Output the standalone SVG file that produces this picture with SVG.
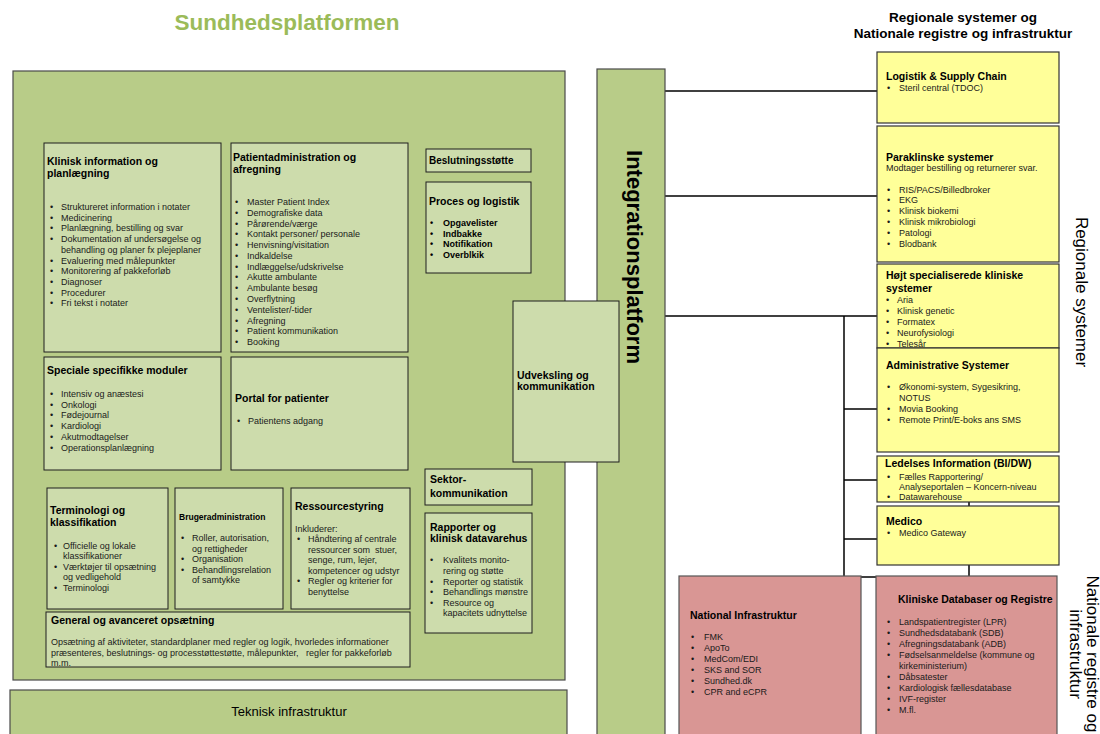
<svg xmlns="http://www.w3.org/2000/svg" width="1100" height="734" viewBox="0 0 1100 734">
<style>
.main{fill:#b8cc88;stroke:#4a4a4a;stroke-width:1.2}
.box{fill:#cddcac;stroke:#1e1e1e;stroke-width:1}
.yel{fill:#ffff99;stroke:#333;stroke-width:1.2}
.red{fill:#d99694;stroke:#555;stroke-width:1.2}
.h{font-family:"Liberation Sans",Arial,sans-serif;font-weight:bold;font-size:10.5px;fill:#000}
.t{font-family:"Liberation Sans",Arial,sans-serif;font-size:9px;fill:#1a1a1a}
.tb{font-family:"Liberation Sans",Arial,sans-serif;font-size:9px;font-weight:bold;fill:#000}
.ln{stroke:#000;stroke-width:1.5;fill:none}
</style>
<rect width="1100" height="734" fill="#fff"/>
<text x="287" y="30" text-anchor="middle" font-family="Liberation Sans, Arial, sans-serif" font-weight="bold" font-size="22.5" fill="#9bbb59">Sundhedsplatformen</text>
<text x="963" y="22" text-anchor="middle" class="h" style="font-size:13.5px">Regionale systemer og</text>
<text x="963" y="38" text-anchor="middle" class="h" style="font-size:13.5px">Nationale registre og infrastruktur</text>
<text transform="translate(1076,292) rotate(90)" text-anchor="middle" font-family="Liberation Sans, Arial, sans-serif" font-size="17" fill="#000">Regionale systemer</text>
<g transform="translate(1087,654) rotate(90)" font-family="Liberation Sans, Arial, sans-serif" font-size="17" fill="#000" text-anchor="middle">
<text x="0" y="0">Nationale registre og</text>
<text x="0" y="17">infrastruktur</text>
</g>

<g id="connectors">
<line class="ln" x1="665" y1="91" x2="877" y2="91"/>
<line class="ln" x1="665" y1="196" x2="877" y2="196"/>
<line class="ln" x1="665" y1="316" x2="877" y2="316"/>
<line class="ln" x1="844" y1="316" x2="844" y2="577"/>
<line class="ln" x1="844" y1="409" x2="877" y2="409"/>
<line class="ln" x1="844" y1="480" x2="877" y2="480"/>
<line class="ln" x1="844" y1="539" x2="877" y2="539"/>
<line class="ln" x1="844" y1="577" x2="969" y2="577"/>
<line class="ln" x1="969" y1="500" x2="969" y2="577"/>
</g>

<g id="sundhedsplatformen"><rect class="main" x="13" y="71" width="552" height="609"/></g>
<g id="integrationsplatform">
<rect class="main" x="597" y="69" width="68" height="667"/>
<text transform="translate(627,257) rotate(90)" text-anchor="middle" font-family="Liberation Sans, Arial, sans-serif" font-weight="bold" font-size="22" fill="#000">Integrationsplatform</text>
</g>
<g id="udveksling">
<rect class="box" x="513" y="301" width="106" height="161"/>
<text class="h" x="517" y="378.5">Udveksling og</text>
<text class="h" x="517" y="390">kommunikation</text>
</g>

<g id="klinisk">
<rect class="box" x="44" y="143" width="177" height="209"/>
<text class="h" x="47" y="165">Klinisk information og</text>
<text class="h" x="47" y="177">planlægning</text>
<g class="t">
<text x="50" y="210">•</text><text x="61" y="210">Struktureret information i notater</text>
<text x="50" y="220.7">•</text><text x="61" y="220.7">Medicinering</text>
<text x="50" y="231.4">•</text><text x="61" y="231.4">Planlægning, bestilling og svar</text>
<text x="50" y="242.1">•</text><text x="61" y="242.1">Dokumentation af undersøgelse og</text>
<text x="61" y="252.8">behandling og planer fx plejeplaner</text>
<text x="50" y="263.5">•</text><text x="61" y="263.5">Evaluering med målepunkter</text>
<text x="50" y="274.2">•</text><text x="61" y="274.2">Monitorering af pakkeforløb</text>
<text x="50" y="284.9">•</text><text x="61" y="284.9">Diagnoser</text>
<text x="50" y="295.6">•</text><text x="61" y="295.6">Procedurer</text>
<text x="50" y="306.3">•</text><text x="61" y="306.3">Fri tekst i notater</text>
</g>
</g>

<g id="patientadmin">
<rect class="box" x="231" y="143" width="177" height="209"/>
<text class="h" x="233" y="160.5">Patientadministration og</text>
<text class="h" x="233" y="173">afregning</text>
<g class="t">
<text x="235" y="205">•</text><text x="247" y="205">Master Patient Index</text>
<text x="235" y="215.8">•</text><text x="247" y="215.8">Demografiske data</text>
<text x="235" y="226.5">•</text><text x="247" y="226.5">Pårørende/værge</text>
<text x="235" y="237.3">•</text><text x="247" y="237.3">Kontakt personer/ personale</text>
<text x="235" y="248.1">•</text><text x="247" y="248.1">Henvisning/visitation</text>
<text x="235" y="258.8">•</text><text x="247" y="258.8">Indkaldelse</text>
<text x="235" y="269.6">•</text><text x="247" y="269.6">Indlæggelse/udskrivelse</text>
<text x="235" y="280.4">•</text><text x="247" y="280.4">Akutte ambulante</text>
<text x="235" y="291.2">•</text><text x="247" y="291.2">Ambulante besøg</text>
<text x="235" y="301.9">•</text><text x="247" y="301.9">Overflytning</text>
<text x="235" y="312.7">•</text><text x="247" y="312.7">Ventelister/-tider</text>
<text x="235" y="323.5">•</text><text x="247" y="323.5">Afregning</text>
<text x="235" y="334.2">•</text><text x="247" y="334.2">Patient kommunikation</text>
<text x="235" y="345">•</text><text x="247" y="345">Booking</text>
</g>
</g>

<g id="beslutning">
<rect class="box" x="426" y="149" width="105" height="23"/>
<text class="h" x="429" y="164" style="font-size:10px">Beslutningsstøtte</text>
</g>
<g id="proces">
<rect class="box" x="426" y="182" width="105" height="91"/>
<text class="h" x="429" y="205">Proces og logistik</text>
<g class="tb">
<text x="430" y="226">•</text><text x="443" y="226">Opgavelister</text>
<text x="430" y="236.7">•</text><text x="443" y="236.7">Indbakke</text>
<text x="430" y="247.4">•</text><text x="443" y="247.4">Notifikation</text>
<text x="430" y="258.1">•</text><text x="443" y="258.1">Overblkik</text>
</g>
</g>

<g id="speciale">
<rect class="box" x="44" y="357" width="177" height="113"/>
<text class="h" x="47" y="374">Speciale specifikke moduler</text>
<g class="t">
<text x="50" y="397">•</text><text x="61" y="397">Intensiv og anæstesi</text>
<text x="50" y="407.7">•</text><text x="61" y="407.7">Onkologi</text>
<text x="50" y="418.4">•</text><text x="61" y="418.4">Fødejournal</text>
<text x="50" y="429.1">•</text><text x="61" y="429.1">Kardiologi</text>
<text x="50" y="439.8">•</text><text x="61" y="439.8">Akutmodtagelser</text>
<text x="50" y="450.5">•</text><text x="61" y="450.5">Operationsplanlægning</text>
</g>
</g>

<g id="portal">
<rect class="box" x="231" y="357" width="177" height="113"/>
<text class="h" x="235" y="401.5">Portal for patienter</text>
<g class="t">
<text x="237" y="423.5">•</text><text x="248" y="423.5">Patientens adgang</text>
</g>
</g>

<g id="sektor">
<rect class="box" x="425" y="469" width="107" height="36"/>
<text class="h" x="430" y="483">Sektor-</text>
<text class="h" x="430" y="497">kommunikation</text>
</g>

<g id="rapporter">
<rect class="box" x="425" y="513" width="107" height="120"/>
<text class="h" x="430" y="530.5">Rapporter og</text>
<text class="h" x="430" y="542">klinisk datavarehus</text>
<g class="t">
<text x="430" y="563">•</text><text x="443" y="563">Kvalitets monito-</text>
<text x="443" y="574">rering og støtte</text>
<text x="430" y="584.5">•</text><text x="443" y="584.5">Reporter og statistik</text>
<text x="430" y="595">•</text><text x="443" y="595">Behandlings mønstre</text>
<text x="430" y="605.5">•</text><text x="443" y="605.5">Resource og</text>
<text x="443" y="616">kapacitets udnyttelse</text>
</g>
</g>

<g id="terminologi">
<rect class="box" x="47" y="488" width="121" height="121"/>
<text class="h" x="50" y="514">Terminologi og</text>
<text class="h" x="50" y="525.5">klassifikation</text>
<g class="t">
<text x="54" y="548.5">•</text><text x="63" y="548.5">Officielle og lokale</text>
<text x="63" y="559">klassifikationer</text>
<text x="54" y="569.5">•</text><text x="63" y="569.5">Værktøjer til opsætning</text>
<text x="63" y="580">og vedligehold</text>
<text x="54" y="590.5">•</text><text x="63" y="590.5">Terminologi</text>
</g>
</g>

<g id="brugeradmin">
<rect class="box" x="175" y="488" width="108" height="121"/>
<text class="h" x="179" y="520" style="font-size:8.5px">Brugeradministration</text>
<g class="t">
<text x="181" y="541">•</text><text x="192" y="541">Roller, autorisation,</text>
<text x="192" y="551.5">og rettigheder</text>
<text x="181" y="562">•</text><text x="192" y="562">Organisation</text>
<text x="181" y="572.5">•</text><text x="192" y="572.5">Behandlingsrelation</text>
<text x="192" y="583">of samtykke</text>
</g>
</g>

<g id="ressource">
<rect class="box" x="291" y="488" width="119" height="121"/>
<text class="h" x="295" y="509.5">Ressourcestyring</text>
<g class="t">
<text x="295" y="531.5">Inkluderer:</text>
<text x="297" y="542">•</text><text x="308" y="542">Håndtering af centrale</text>
<text x="308" y="552.5" xml:space="preserve">ressourcer som  stuer,</text>
<text x="308" y="563">senge, rum, lejer,</text>
<text x="308" y="573.5">kompetencer og udstyr</text>
<text x="297" y="584">•</text><text x="308" y="584">Regler og kriterier for</text>
<text x="308" y="594.5">benyttelse</text>
</g>
</g>

<g id="general">
<rect class="box" x="46" y="612" width="364" height="55"/>
<text class="h" x="51" y="623.5">General og avanceret opsætning</text>
<g class="t">
<text x="51" y="645">Opsætning af aktiviteter, standardplaner med regler og logik, hvorledes informationer</text>
<text x="51" y="655.5" xml:space="preserve">præsenteres, beslutnings- og processtøttestøtte, målepunkter,   regler for pakkeforløb</text>
<text x="51" y="665.5">m.m.</text>
</g>
</g>

<g id="teknisk">
<rect class="main" x="10" y="690" width="557" height="46"/>
<text x="289" y="716" text-anchor="middle" font-family="Liberation Sans, Arial, sans-serif" font-size="13" fill="#000">Teknisk infrastruktur</text>
</g>

<g id="logistik">
<rect class="yel" x="877" y="52" width="182" height="71"/>
<text class="h" x="886" y="80">Logistik &amp; Supply Chain</text>
<g class="t"><text x="887" y="91">•</text><text x="899" y="91">Steril central (TDOC)</text></g>
</g>

<g id="paraklinske">
<rect class="yel" x="877" y="126" width="182" height="136"/>
<text class="h" x="886" y="160.5">Paraklinske systemer</text>
<g class="t">
<text x="886" y="170.5">Modtager bestilling og returnerer svar.</text>
<text x="887" y="192.5">•</text><text x="899" y="192.5">RIS/PACS/Billedbroker</text>
<text x="887" y="203.3">•</text><text x="899" y="203.3">EKG</text>
<text x="887" y="214.1">•</text><text x="899" y="214.1">Klinisk biokemi</text>
<text x="887" y="224.9">•</text><text x="899" y="224.9">Klinisk mikrobiologi</text>
<text x="887" y="235.7">•</text><text x="899" y="235.7">Patologi</text>
<text x="887" y="246.5">•</text><text x="899" y="246.5">Blodbank</text>
</g>
</g>

<g id="hoejt">
<rect class="yel" x="877" y="264" width="182" height="84"/>
<text class="h" x="886" y="278.5">Højt specialiserede kliniske</text>
<text class="h" x="886" y="291.5">systemer</text>
<g class="t">
<text x="886" y="302.5">•</text><text x="897" y="302.5">Aria</text>
<text x="886" y="313.5">•</text><text x="897" y="313.5">Klinisk genetic</text>
<text x="886" y="324.5">•</text><text x="897" y="324.5">Formatex</text>
<text x="886" y="335.5">•</text><text x="897" y="335.5">Neurofysiologi</text>
<text x="886" y="346.5">•</text><text x="897" y="346.5">Telesår</text>
</g>
</g>

<g id="administrative">
<rect class="yel" x="877" y="348" width="182" height="104"/>
<text class="h" x="886" y="369">Administrative Systemer</text>
<g class="t">
<text x="887" y="390">•</text><text x="899" y="390">Økonomi-system, Sygesikring,</text>
<text x="899" y="401">NOTUS</text>
<text x="887" y="412">•</text><text x="899" y="412">Movia Booking</text>
<text x="887" y="423">•</text><text x="899" y="423">Remote Print/E-boks ans SMS</text>
</g>
</g>

<g id="ledelses">
<rect class="yel" x="877" y="456" width="182" height="46"/>
<text class="h" x="885" y="467">Ledelses Information (BI/DW)</text>
<g class="t">
<text x="887" y="479.5">•</text><text x="899" y="479.5">Fælles Rapportering/</text>
<text x="899" y="489.5">Analyseportalen – Koncern-niveau</text>
<text x="887" y="499.5">•</text><text x="899" y="499.5">Datawarehouse</text>
</g>
</g>

<g id="medico">
<rect class="yel" x="877" y="506" width="182" height="59"/>
<text class="h" x="886" y="524.5">Medico</text>
<g class="t"><text x="887" y="535.5">•</text><text x="899" y="535.5">Medico Gateway</text></g>
</g>

<g id="national">
<rect class="red" x="679" y="576" width="182" height="160"/>
<text class="h" x="690" y="619">National Infrastruktur</text>
<g class="t">
<text x="691" y="640">•</text><text x="704" y="640">FMK</text>
<text x="691" y="651">•</text><text x="704" y="651">ApoTo</text>
<text x="691" y="662">•</text><text x="704" y="662">MedCom/EDI</text>
<text x="691" y="673">•</text><text x="704" y="673">SKS and SOR</text>
<text x="691" y="684">•</text><text x="704" y="684">Sundhed.dk</text>
<text x="691" y="695">•</text><text x="704" y="695">CPR and eCPR</text>
</g>
</g>

<g id="kliniske">
<rect class="red" x="876" y="576" width="181" height="160"/>
<text class="h" x="898" y="603">Kliniske Databaser og Registre</text>
<g class="t">
<text x="887" y="624.5">•</text><text x="899" y="624.5">Landspatientregister (LPR)</text>
<text x="887" y="635.5">•</text><text x="899" y="635.5">Sundhedsdatabank (SDB)</text>
<text x="887" y="646.5">•</text><text x="899" y="646.5">Afregningsdatabank (ADB)</text>
<text x="887" y="657.5">•</text><text x="899" y="657.5">Fødselsanmeldelse (kommune og</text>
<text x="899" y="668.5">kirkeministerium)</text>
<text x="887" y="679.5">•</text><text x="899" y="679.5">Dåbsatester</text>
<text x="887" y="690.5">•</text><text x="899" y="690.5">Kardiologisk fællesdatabase</text>
<text x="887" y="701.5">•</text><text x="899" y="701.5">IVF-register</text>
<text x="887" y="712.5">•</text><text x="899" y="712.5">M.fl.</text>
</g>
</g>
</svg>
